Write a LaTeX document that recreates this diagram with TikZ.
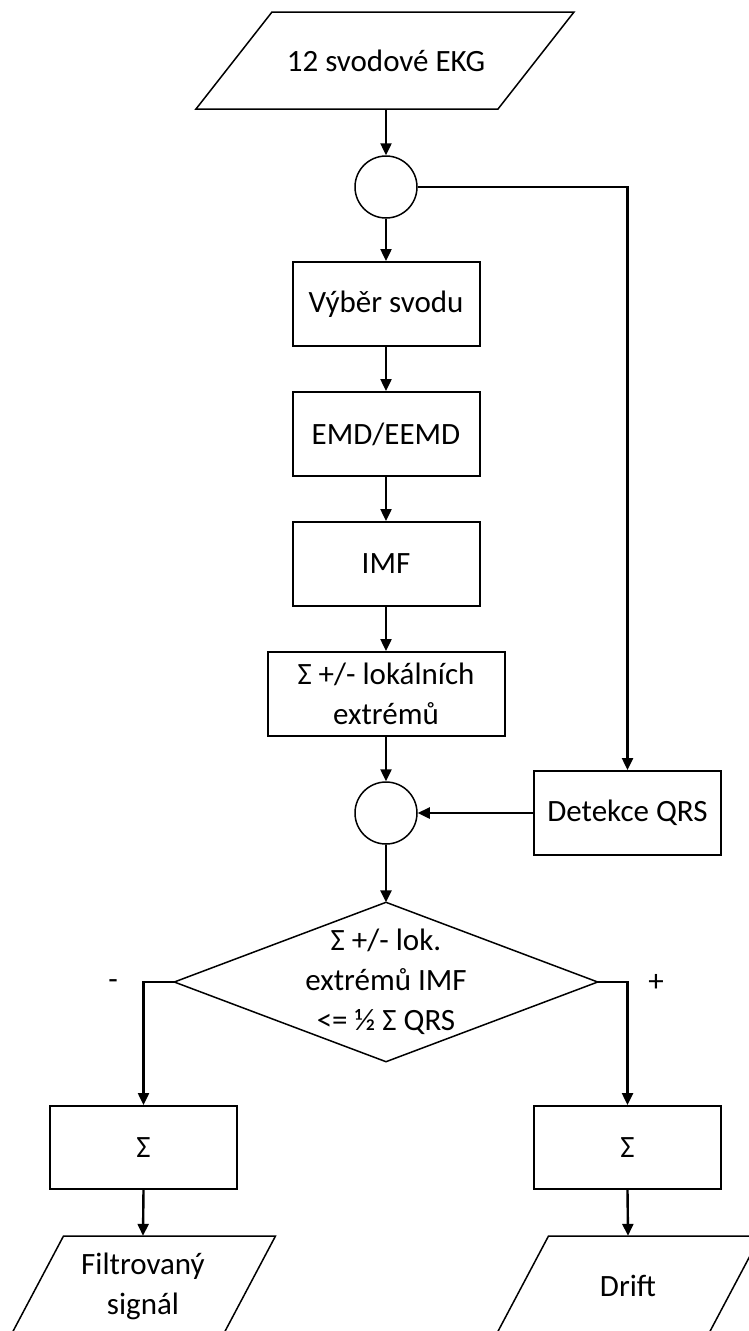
\documentclass[tikz,border=0pt]{standalone}
\usepackage{fontspec}
\setmainfont{Carlito}
\usetikzlibrary{arrows.meta}
\begin{document}
\begin{tikzpicture}[x=1pt,y=-1pt,
  font=\fontsize{31}{40}\selectfont,
  box/.style={draw, line width=2pt, minimum width=187pt, minimum height=84pt, inner sep=0pt, align=center},
  wbox/.style={box, minimum width=237pt},
  junction/.style={circle, draw, line width=1.5pt, minimum size=62pt, inner sep=0pt},
  holder/.style={draw=none, inner sep=0pt, align=center},
  shapeline/.style={line width=1.5pt, line join=miter},
  con/.style={line width=2.4pt, -{Triangle[length=12pt,width=11pt]}},
  sign/.style={inner sep=0pt}
]
\useasboundingbox (0,0) rectangle (749,1331);
\clip (0,0) rectangle (749,1331);
\fill[white] (0,0) rectangle (749,1331);

% input
\node[holder, minimum width=226pt, minimum height=97pt] (in) at (386,60.5) {12 svodové EKG};
\draw[shapeline] ([shift={(-114,-48.5)}]in.center) -- ([shift={(188,-48.5)}]in.center)
  -- ([shift={(112,48.5)}]in.center) -- ([shift={(-190,48.5)}]in.center) -- cycle;

\node[junction] (c1) at (386,187) {};
\node[box] (b1) at (386,304) {Výběr svodu};
\node[box] (b2) at (386,434) {EMD/EEMD};
\node[box] (b3) at (386,564) {IMF};
\node[wbox] (b4) at (386,694) {Σ +/- lokálních\\extrémů};
\node[junction] (c2) at (386,813) {};
\node[box] (qrs) at (627.5,813) {Detekce QRS};

% decision
\node[holder, minimum width=423pt, minimum height=159pt] (d) at (386,982) {Σ +/- lok.\\extrémů IMF\\<= ½ Σ QRS};
\draw[shapeline] (d.north) -- (d.east) -- (d.south) -- (d.west) -- cycle;

\node[sign] (minus) at (113,985) {-};
\node[sign] (plus) at (656,983) {+};

\node[box, minimum height=83pt] (s1) at (143.5,1147.5) {Σ};
\node[box, minimum height=83pt] (s2) at (627.5,1147.5) {Σ};

% outputs
\node[holder, minimum width=160pt, minimum height=100pt] (o1) at (143,1286) {Filtrovaný\\signál};
\draw[shapeline] ([shift={(-79.5,-50)}]o1.center) -- ([shift={(132.5,-50)}]o1.center)
  -- ([shift={(79.5,50)}]o1.center) -- ([shift={(-132.5,50)}]o1.center) -- cycle;
\node[holder, minimum width=160pt, minimum height=100pt] (o2) at (628,1286) {Drift};
\draw[shapeline] ([shift={(-79.5,-50)}]o2.center) -- ([shift={(132.5,-50)}]o2.center)
  -- ([shift={(79.5,50)}]o2.center) -- ([shift={(-132.5,50)}]o2.center) -- cycle;

% connectors
\draw[con] (in.south) -- (c1.north);
\draw[con] (c1.south) -- (b1.north);
\draw[con] (b1.south) -- (b2.north);
\draw[con] (b2.south) -- (b3.north);
\draw[con] (b3.south) -- (b4.north);
\draw[con] (b4.south) -- (c2.north);
\draw[con] (c1.east) -| (qrs.north);
\draw[con] (qrs.west) -- (c2.east);
\draw[con] (c2.south) -- (d.north);
\draw[con] (d.west) -| (s1.north);
\draw[con] (d.east) -| (s2.north);
\draw[con] (s1.south) -- (o1.north);
\draw[con] (s2.south) -- (o2.north);
\end{tikzpicture}
\end{document}
